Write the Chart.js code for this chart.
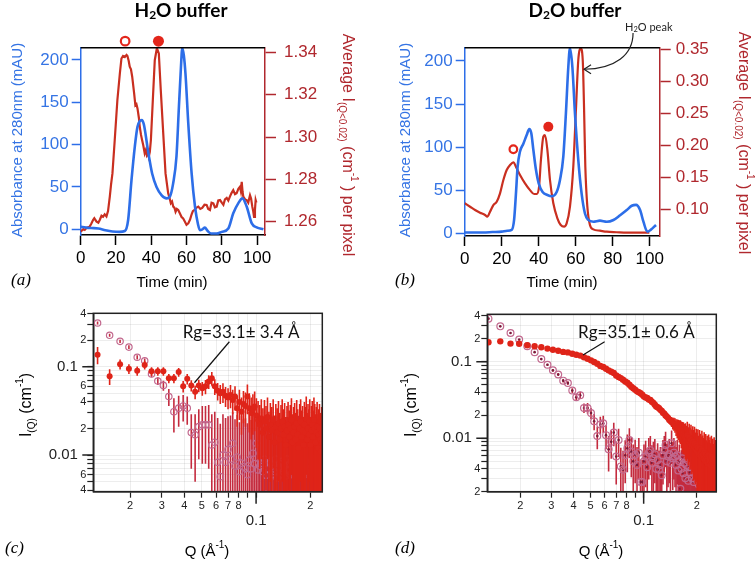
<!DOCTYPE html>
<html>
<head>
<meta charset="utf-8">
<script src="https://cdn.jsdelivr.net/npm/chart.js@4.4.1/dist/chart.umd.min.js"></script>
<style>
  body { margin: 0; background: #fff; }
  #wrap { position: relative; width: 756px; height: 561px; overflow: hidden; background: #fff; }
  canvas { position: absolute; }
</style>
</head>
<body>
<div id="wrap">
  <canvas id="chartA" width="378" height="290" style="left:0;top:0"></canvas>
  <canvas id="chartB" width="378" height="290" style="left:378px;top:0"></canvas>
  <canvas id="chartC" width="378" height="271" style="left:0;top:290px"></canvas>
  <canvas id="chartD" width="378" height="271" style="left:378px;top:290px"></canvas>
</div>
<script>
// ---- (a) H2O buffer : UV absorbance + average SANS intensity vs elution time
const A_BLUE_T = [0, 3, 6, 10, 14, 18, 22, 25, 26.9, 28.8, 30.7, 32.2, 34.6, 35.8, 36.8, 38, 39.2, 40.5, 43, 45.8,
  48.7, 50.5, 52.4, 54.3, 55.7, 56.8, 57.6, 58.5, 59.4, 61, 62.9, 64.8, 66.5, 67.6, 69, 70.4, 72, 74, 77, 80,
  83.7, 86.5, 89.4, 91.7, 94.1, 97, 99.8, 103.6];
const A_BLUE_V = [3, 2, 1.5, 1, -1, -2.5, -3, -2, 11, 58, 98, 121, 129, 124, 112, 95, 80, 66, 50, 40.5,
  36.6, 38.5, 54, 86, 145, 190, 214, 205, 184, 125, 66, 27, 6, -1, 0, 2, -2, -5, -5, -3,
  1, 19, 31, 36.6, 27, 7, 2.3, 0];
const A_RED_T = [0, 1.5, 2.3, 3.5, 5, 6, 7, 7.7, 9, 10,
  10.8, 11.8, 12.7, 13.6, 14.6, 15.5, 16.5, 17.2, 18, 19.3,
  20.8, 22.2, 23.1, 24, 25, 26, 26.5, 27.2, 27.8, 28.5,
  29.2, 30.3, 31, 31.6, 32.2, 33, 33.5, 34.2, 34.8, 35.5,
  36.3, 37, 37.5, 38.1, 38.6, 39.2, 39.8, 40.9, 42, 43.2,
  44.3, 45.4, 46.8, 48.1, 49.6, 50.3, 51.1, 51.8, 52.5, 53.2,
  53.8, 54.5, 55.3, 56.2, 57.2, 58.1, 59.1, 60, 61, 62,
  62.9, 63.6, 64.4, 65.5, 66.7, 67.8, 68.9, 70.2, 71.4, 72.3,
  73.3, 74.2, 75.2, 76.1, 77.1, 78, 79, 80, 80.9, 81.8,
  82.8, 83.7, 84.6, 85.5, 86.5, 87.5, 88.4, 89.4, 90.3, 90.8,
  91.3, 91.8, 92.2, 93.2, 94.1, 95, 96, 96.6, 97.3, 97.8,
  98.3, 98.8, 99.2, 99.6];
const A_RED_V = [1.2553, 1.2565, 1.2561, 1.2572, 1.2576, 1.2590, 1.2608, 1.2616, 1.2600, 1.2595,
  1.2608, 1.2628, 1.2623, 1.2635, 1.2625, 1.2650, 1.2718, 1.2775, 1.2828, 1.2986,
  1.3175, 1.3300, 1.3371, 1.3383, 1.3378, 1.3388, 1.3383, 1.3360, 1.3332, 1.3320,
  1.3285, 1.3206, 1.3150, 1.3155, 1.3135, 1.3090, 1.3048, 1.3010, 1.2986, 1.2960,
  1.2923, 1.2940, 1.2915, 1.2925, 1.2907, 1.2930, 1.2986, 1.3175, 1.3363, 1.3420,
  1.3395, 1.3222, 1.3017, 1.2828, 1.2734, 1.2715, 1.2687, 1.2695, 1.2671, 1.2665,
  1.2647, 1.2660, 1.2655, 1.2640, 1.2622, 1.2615, 1.2600, 1.2585, 1.2592, 1.2610,
  1.2635, 1.2650, 1.2655, 1.2665, 1.2671, 1.2660, 1.2665, 1.2680, 1.2679, 1.2660,
  1.2655, 1.2690, 1.2687, 1.2668, 1.2671, 1.2700, 1.2702, 1.2690, 1.2680, 1.2705,
  1.2712, 1.2700, 1.2718, 1.2735, 1.2749, 1.2730, 1.2734, 1.2755, 1.2765, 1.2745,
  1.2788, 1.2740, 1.2718, 1.2705, 1.2702, 1.2690, 1.2725, 1.2710, 1.2671, 1.2650,
  1.2622, 1.2655, 1.2702, 1.2690];
const A_MARK_T = [25.2, 44.1];        // open circle, filled circle
const A_MARK_V = [1.3453, 1.3453];
const A_XTICKS = [0, 20, 40, 60, 80, 100];
const A_YTICKS = [0, 50, 100, 150, 200];
const A_Y2TICKS = [1.26, 1.28, 1.30, 1.32, 1.34];

// ---- (b) D2O buffer
const B_BLUE_T = [0, 5, 10, 15, 20, 23, 25.4, 26.7, 27.7, 28.6, 29.9, 31.7, 33.5, 34.9, 36, 37.1, 38.5, 40, 42.1, 44.7,
  47, 49.7, 51.5, 53.3, 54.7, 56, 56.9, 58.2, 59.6, 61.4, 63.2, 65, 66.8, 69.5, 73.1, 76.8, 80.4, 84, 87.6, 90.3,
  92.6, 94.8, 96.6, 98.7, 100.5, 103.4];
const B_BLUE_V = [1, 1, 1, 1.5, 2, 3, 4, 15.5, 46, 77, 95, 104, 114, 121, 116, 97, 74, 58, 48, 44.5,
  43, 48, 62, 89, 139, 193, 215, 193, 139, 85, 46, 23, 15.5, 13.5, 14.7, 13.5, 15.5, 21, 27, 32,
  33, 27, 13.5, 2, 4, 9.7];
const B_RED_T = [0, 2.9, 5.6, 8.3, 11, 12.2, 13.7, 15.5, 17.3, 19.1, 20.9, 22.7, 24.5, 26.3, 28.1, 29.9,
  32.6, 35.3, 37.5, 38.9, 40.2, 41.2, 42.5, 43.4, 44.7, 46.1, 47.9, 50.1, 51.9, 53.7, 55.1, 56.9,
  58.7, 60.2, 61.4, 62.7, 63.8, 64.5, 65.2, 66.3, 67.7, 69.5, 73.1, 76.8, 82.1, 87.6, 94.8, 99.8];
const B_RED_V = [0.1094, 0.1040, 0.0989, 0.0947, 0.0911, 0.0885, 0.0963, 0.1067, 0.1119, 0.1250, 0.1458, 0.1614, 0.1692, 0.1734, 0.1640, 0.1535,
  0.1405, 0.1300, 0.1239, 0.1239, 0.1354, 0.1770, 0.2135, 0.2160, 0.1926, 0.1458, 0.1094, 0.0860, 0.0755, 0.0729, 0.0781, 0.1042,
  0.1666, 0.2604, 0.3333, 0.3515, 0.3333, 0.2600, 0.1666, 0.1040, 0.0755, 0.0687, 0.0666, 0.0650, 0.0642, 0.0635, 0.0635, 0.0635];
const B_MARK_T = [26.3, 45.2];
const B_MARK_V = [0.1938, 0.229];
const B_XTICKS = [0, 20, 40, 60, 80, 100];
const B_YTICKS = [0, 50, 100, 150, 200];
const B_Y2TICKS = [0.10, 0.15, 0.20, 0.25, 0.30, 0.35];

// ---- (c), (d) scattering curves I(Q)
const Q = [0.0132, 0.0154, 0.0176, 0.0197, 0.0219, 0.0241, 0.0263, 0.0285, 0.0306, 0.0328,
  0.0350, 0.0372, 0.0394, 0.0415, 0.0437, 0.0459, 0.0481, 0.0503, 0.0524, 0.0546,
  0.0568, 0.0590, 0.0612, 0.0633, 0.0655, 0.0677, 0.0699, 0.0721, 0.0742, 0.0764,
  0.0786, 0.0808, 0.0830, 0.0851, 0.0873, 0.0895, 0.0917, 0.0939, 0.0960, 0.0982,
  0.1004, 0.1026, 0.1048, 0.1069, 0.1091, 0.1113, 0.1135, 0.1157, 0.1178, 0.1200,
  0.1222, 0.1244, 0.1266, 0.1287, 0.1309, 0.1331, 0.1353, 0.1375, 0.1396, 0.1418,
  0.1440, 0.1462, 0.1484, 0.1505, 0.1527, 0.1549, 0.1571, 0.1593, 0.1614, 0.1636,
  0.1658, 0.1680, 0.1702, 0.1723, 0.1745, 0.1767, 0.1789, 0.1811, 0.1832, 0.1854,
  0.1876, 0.1898, 0.1920, 0.1941, 0.1963, 0.1985, 0.2007, 0.2029, 0.2050, 0.2072,
  0.2094, 0.2116, 0.2138, 0.2159, 0.2181, 0.2203, 0.2225, 0.2247, 0.2268, 0.2290,
  0.2312, 0.2334, 0.2356, 0.2377, 0.2399, 0.2421, 0.2443, 0.2465, 0.2486, 0.2508,
  0.2530, 0.2552, 0.2574];

const C_FILL = [0.137, 0.078, 0.107, 0.095, 0.090, 0.105, 0.089, 0.089, 0.089, 0.074,
  0.074, 0.087, 0.060, 0.073, 0.0615, 0.052, 0.0615, 0.057, 0.060, 0.068,
  0.074, 0.060, 0.0535, 0.050, 0.052, 0.047, 0.045, 0.048, 0.042, 0.046,
  0.034, 0.040, 0.031, 0.038, 0.036, 0.046, 0.034, 0.030, 0.033, 0.0356,
  0.028, 0.025, 0.022, 0.026, 0.018, 0.024, 0.020, 0.027, 0.016, 0.022,
  0.019, 0.025, 0.014, 0.021, 0.018, 0.023, 0.015, 0.020, 0.024, 0.017,
  0.021, 0.013, 0.019, 0.022, 0.016, 0.020, 0.025, 0.014, 0.018, 0.021,
  0.015, 0.023, 0.017, 0.012, 0.020, 0.024, 0.016, 0.019, 0.013, 0.022,
  0.018, 0.026, 0.015, 0.020, 0.017, 0.024, 0.013, 0.019, 0.022, 0.016,
  0.025, 0.020, 0.014, 0.018, 0.021, 0.012, 0.017, 0.020, 0.015, 0.011,
  0.018, 0.014, 0.012];
const C_FILL_ERR = [0.030, 0.016, 0.014, 0.012, 0.011, 0.012, 0.010, 0.010, 0.010, 0.009,
  0.009, 0.010, 0.009, 0.010, 0.009, 0.009, 0.010, 0.010, 0.011, 0.012,
  0.013, 0.012, 0.012, 0.012, 0.013, 0.012, 0.012, 0.014, 0.013, 0.014,
  0.013, 0.015, 0.014, 0.015, 0.015, 0.017, 0.016, 0.015, 0.016, 0.017,
  0.016, 0.016, 0.015, 0.017, 0.016, 0.018, 0.016, 0.018, 0.015, 0.017,
  0.016, 0.018, 0.014, 0.017, 0.016, 0.018, 0.015, 0.017, 0.019, 0.016,
  0.018, 0.014, 0.017, 0.018, 0.016, 0.017, 0.019, 0.015, 0.017, 0.018,
  0.015, 0.019, 0.016, 0.013, 0.018, 0.019, 0.016, 0.017, 0.014, 0.018,
  0.017, 0.020, 0.015, 0.018, 0.016, 0.019, 0.014, 0.017, 0.019, 0.016,
  0.020, 0.018, 0.015, 0.017, 0.019, 0.013, 0.016, 0.018, 0.015, 0.013,
  0.017, 0.015, 0.014];
const C_OPEN = [0.313, 0.227, 0.194, 0.167, 0.128, 0.117, 0.083, 0.069, 0.0615, 0.046,
  0.031, 0.034, 0.036, 0.034, 0.018, 0.017, 0.021, 0.022, 0.022, 0.022,
  0.013, 0.014, 0.0083, 0.0057, 0.0100, 0.0083, 0.0116, 0.0090, 0.0136, 0.0075,
  0.0095, 0.0065, 0.0081, 0.0074, 0.0071, 0.0060, 0.0088, 0.0070, 0.0105, 0.0080,
  0.0136, 0.0068, 0.0075, 0.0081, 0.0065, 0.0090, 0.0059, 0.0070, 0.0085, 0.0081,
  0.0060, 0.0078, 0.0065, 0.0090, 0.0055, 0.0072, 0.0080, 0.0060, 0.0085, 0.0065,
  0.0075, 0.0058, 0.0090, 0.0068, 0.0078, 0.0060, 0.0085, 0.0070, 0.0062, 0.0080,
  0.0066, 0.0075, 0.0058, 0.0088, 0.0070, 0.0062, 0.0080, 0.0068, 0.0075, 0.0060,
  0.0085, 0.0070, 0.0064, 0.0078, 0.0060, 0.0082, 0.0070, 0.0065, 0.0090, 0.0072,
  0.0080, 0.0062, 0.0085, 0.0070, 0.0075, 0.0090, 0.0068, 0.0080, 0.0072, 0.0085,
  0.0078, 0.0095, 0.0080];
const C_OPEN_ERR = [0.012, 0.009, 0.008, 0.008, 0.007, 0.007, 0.007, 0.007, 0.008, 0.010,
  0.013, 0.013, 0.012, 0.012, 0.011, 0.012, 0.012, 0.014, 0.014, 0.015,
  0.016, 0.017, 0.018, 0.017, 0.019, 0.018, 0.016, 0.019, 0.017, 0.018,
  0.019, 0.017, 0.020, 0.018, 0.019, 0.017, 0.020, 0.018, 0.019, 0.017,
  0.016, 0.019, 0.018, 0.020, 0.017, 0.019, 0.018, 0.020, 0.017, 0.019,
  0.018, 0.020, 0.017, 0.019, 0.018, 0.020, 0.017, 0.019, 0.018, 0.020,
  0.017, 0.019, 0.018, 0.020, 0.017, 0.019, 0.018, 0.020, 0.017, 0.019,
  0.018, 0.020, 0.017, 0.019, 0.018, 0.020, 0.017, 0.019, 0.018, 0.020,
  0.017, 0.019, 0.018, 0.020, 0.017, 0.019, 0.018, 0.020, 0.017, 0.019,
  0.018, 0.020, 0.017, 0.019, 0.018, 0.020, 0.017, 0.019, 0.018, 0.020,
  0.017, 0.019, 0.018];

const D_FILL = [0.179, 0.184, 0.172, 0.171, 0.164, 0.159, 0.154, 0.148, 0.143, 0.139,
  0.134, 0.132, 0.127, 0.123, 0.120, 0.114, 0.109, 0.104, 0.099, 0.094,
  0.088, 0.085, 0.081, 0.077, 0.074, 0.071, 0.066, 0.063, 0.061, 0.058,
  0.055, 0.053, 0.050, 0.047, 0.045, 0.043, 0.041, 0.040, 0.0387, 0.037,
  0.035, 0.034, 0.0335, 0.032, 0.0317, 0.030, 0.029, 0.0275, 0.026, 0.0255,
  0.0247, 0.0235, 0.0228, 0.0215, 0.021, 0.0198, 0.0192, 0.0185, 0.0175, 0.017,
  0.0165, 0.0158, 0.0155, 0.015, 0.0142, 0.0138, 0.0135, 0.0130, 0.0128, 0.0120,
  0.0115, 0.0112, 0.0108, 0.0105, 0.0098, 0.0110, 0.0092, 0.0102, 0.0088, 0.0095,
  0.0082, 0.0090, 0.0078, 0.0085, 0.0072, 0.0080, 0.0068, 0.0076, 0.0062, 0.0074,
  0.0065, 0.0058, 0.0070, 0.0060, 0.0055, 0.0066, 0.0052, 0.0062, 0.0050, 0.0058,
  0.0047, 0.0060, 0.0050, 0.0055, 0.0045, 0.0058, 0.0048, 0.0052, 0.0044, 0.0055,
  0.0046, 0.0050, 0.0042];
const D_FILL_ERR = [0.004, 0.004, 0.004, 0.003, 0.003, 0.003, 0.003, 0.003, 0.003, 0.003,
  0.003, 0.003, 0.003, 0.003, 0.002, 0.002, 0.002, 0.002, 0.002, 0.002,
  0.002, 0.002, 0.002, 0.002, 0.002, 0.002, 0.002, 0.002, 0.002, 0.002,
  0.0015, 0.0015, 0.0015, 0.0015, 0.0015, 0.0015, 0.0015, 0.0015, 0.0015, 0.0015,
  0.0012, 0.0012, 0.0012, 0.0012, 0.0012, 0.0012, 0.0012, 0.0012, 0.0013, 0.0013,
  0.0014, 0.0014, 0.0015, 0.0015, 0.0016, 0.0016, 0.0017, 0.0018, 0.0019, 0.0020,
  0.0025, 0.0028, 0.0030, 0.0032, 0.0035, 0.0038, 0.0040, 0.0042, 0.0044, 0.0046,
  0.0048, 0.0050, 0.0046, 0.0052, 0.0048, 0.0055, 0.0047, 0.0053, 0.0049, 0.0055,
  0.0048, 0.0054, 0.0050, 0.0056, 0.0047, 0.0053, 0.0049, 0.0055, 0.0046, 0.0054,
  0.0050, 0.0047, 0.0055, 0.0049, 0.0046, 0.0054, 0.0045, 0.0052, 0.0044, 0.0050,
  0.0042, 0.0052, 0.0045, 0.0048, 0.0041, 0.0050, 0.0043, 0.0047, 0.0040, 0.0048,
  0.0042, 0.0045, 0.0040];
const D_OPEN = [0.364, 0.289, 0.237, 0.194, 0.159, 0.133, 0.108, 0.091, 0.077, 0.068,
  0.0565, 0.0527, 0.042, 0.0343, 0.0365, 0.0249, 0.0249, 0.0214, 0.0167, 0.0107,
  0.0151, 0.0157, 0.0110, 0.0072, 0.0090, 0.0119, 0.0058, 0.0095, 0.0043, 0.0039,
  0.0060, 0.0074, 0.0095, 0.0067, 0.0050, 0.0061, 0.0045, 0.0065, 0.0027, 0.0027,
  0.0050, 0.0058, 0.0042, 0.0065, 0.0070, 0.0048, 0.0055, 0.0062, 0.0040, 0.0052,
  0.0039, 0.0045, 0.0033, 0.0060, 0.0070, 0.0082, 0.0050, 0.0058, 0.0062, 0.0048,
  0.0086, 0.0055, 0.0065, 0.0058, 0.0045, 0.0060, 0.0038, 0.0050, 0.0022, 0.0040,
  0.0055, 0.0035, 0.0048, 0.0030, 0.0045, 0.0052, 0.0028, 0.0042, 0.0036, 0.0050,
  0.0030, 0.0045, 0.0027, 0.0040, 0.0033, 0.0048, 0.0028, 0.0038, 0.0025, 0.0042,
  0.0030, 0.0035, 0.0026, 0.0040, 0.0030, 0.0028, 0.0036, 0.0025, 0.0032, 0.0028,
  0.0038, 0.0026, 0.0030, 0.0025, 0.0033, 0.0027, 0.0030, 0.0024, 0.0028, 0.0026,
  0.0025, 0.0029, 0.0025];
const D_OPEN_ERR = [0.006, 0.005, 0.004, 0.003, 0.003, 0.003, 0.003, 0.003, 0.003, 0.003,
  0.003, 0.003, 0.003, 0.0035, 0.004, 0.0035, 0.004, 0.0035, 0.004, 0.0035,
  0.004, 0.004, 0.0038, 0.0035, 0.0036, 0.004, 0.0033, 0.0038, 0.0032, 0.003,
  0.0034, 0.0038, 0.004, 0.0036, 0.0033, 0.0035, 0.0032, 0.0036, 0.0026, 0.0026,
  0.0033, 0.0035, 0.0032, 0.0036, 0.0037, 0.0033, 0.0035, 0.0036, 0.0031, 0.0034,
  0.003, 0.0032, 0.003, 0.0035, 0.0037, 0.004, 0.0034, 0.0035, 0.0036, 0.0033,
  0.004, 0.0034, 0.0036, 0.0035, 0.0032, 0.0035, 0.003, 0.0033, 0.0022, 0.003,
  0.0034, 0.0028, 0.0032, 0.0026, 0.0031, 0.0033, 0.0025, 0.003, 0.0028, 0.0033,
  0.0026, 0.0031, 0.0024, 0.0029, 0.0027, 0.0032, 0.0025, 0.0028, 0.0023, 0.003,
  0.0026, 0.0027, 0.0023, 0.0029, 0.0026, 0.0025, 0.0028, 0.0023, 0.0027, 0.0025,
  0.0029, 0.0024, 0.0026, 0.0023, 0.0028, 0.0024, 0.0026, 0.0022, 0.0025, 0.0024,
  0.0023, 0.0026, 0.0023];

const Q_TICKS = [0.02, 0.03, 0.04, 0.05, 0.06, 0.07, 0.08, 0.09, 0.1, 0.2];
const Q_LABELS = ['2', '3', '4', '5', '6', '7', '8', '', '0.1', '2'];
const C_YTICKS = [0.004, 0.005, 0.006, 0.007, 0.008, 0.009, 0.01, 0.02, 0.03, 0.04, 0.05, 0.06, 0.07, 0.08, 0.09, 0.1, 0.2, 0.3, 0.4];
const C_YLABELS = ['4', '', '6', '', '', '', '0.01', '2', '', '4', '', '6', '', '', '', '0.1', '2', '', '4'];
const D_YTICKS = [0.002, 0.003, 0.004, 0.005, 0.006, 0.007, 0.008, 0.009, 0.01, 0.02, 0.03, 0.04, 0.05, 0.06, 0.07, 0.08, 0.09, 0.1, 0.2, 0.3, 0.4];
const D_YLABELS = ['2', '', '4', '', '', '', '', '', '0.01', '2', '', '4', '', '', '', '', '', '0.1', '2', '', '4'];
const DECADES = [0.01, 0.1];

// colours and fonts
const BLUE = '#2d6ee8';
const BLUE_TXT = '#3574e4';
const RED_LINE = '#c92f20';
const RED_AX = '#b0282e';
const MARK = '#e3261b';
const SANS_RED = '#df2419';
const RING = '#c2688e';
const RING_ERR = '#c42b3e';
const GRID = 'rgba(0,0,0,0.07)';
const FONT = '"Liberation Sans", Arial, sans-serif';
const CAL = 'Lato, "Open Sans", sans-serif';
const SERIF = '"Liberation Serif", "DejaVu Serif", serif';

Chart.defaults.font.family = FONT;
Chart.defaults.color = '#000';

const pts = (xs, ys) => ys.map((y, i) => ({ x: xs[i], y }));
const setTicks = vals => scale => { scale.ticks = vals.map(v => ({ value: v })); };
const fixW = w => scale => { scale.width = w; };
const fixH = h => scale => { scale.height = h; };

// text with sub/superscripts, optionally rotated
function drawRich(ctx, it) {
  const font = s => [s.style || it.style || '', s.weight || it.weight || '', (s.size || it.size || 15) + 'px', s.family || it.family || FONT].join(' ');
  ctx.save();
  ctx.translate(it.x, it.y);
  if (it.rot) ctx.rotate(it.rot * Math.PI / 180);
  ctx.fillStyle = it.color || '#000';
  ctx.textBaseline = 'middle';
  ctx.textAlign = 'left';
  let w = 0;
  it.segs.forEach(s => { ctx.font = font(s); w += ctx.measureText(s.t).width; });
  let cx = it.align === 'left' ? 0 : -w / 2;
  it.segs.forEach(s => {
    ctx.font = font(s);
    ctx.fillText(s.t, cx, s.dy || 0);
    cx += ctx.measureText(s.t).width;
  });
  ctx.restore();
}

function overlay(items, draw) {
  return {
    id: 'overlay',
    afterDraw(chart) {
      const ctx = chart.ctx;
      if (draw) draw(chart, ctx);
      items.forEach(it => drawRich(ctx, it));
    }
  };
}

// top border and the two peak markers (open / filled) of the chromatograms
const chromExtras = (mt, mv, rOpen, rFill) => (chart, ctx) => {
  const { chartArea: a, scales: { x, y2 } } = chart;
  ctx.save();
  ctx.strokeStyle = '#000';
  ctx.lineWidth = 1.5;
  ctx.beginPath();
  ctx.moveTo(a.left, a.top);
  ctx.lineTo(a.right, a.top);
  ctx.stroke();
  ctx.strokeStyle = MARK;
  ctx.fillStyle = MARK;
  ctx.lineWidth = 2.2;
  ctx.beginPath();
  ctx.arc(x.getPixelForValue(mt[0]), y2.getPixelForValue(mv[0]), rOpen, 0, Math.PI * 2);
  ctx.stroke();
  ctx.beginPath();
  ctx.arc(x.getPixelForValue(mt[1]), y2.getPixelForValue(mv[1]), rFill, 0, Math.PI * 2);
  ctx.fill();
  ctx.restore();
};

// vertical error bars, drawn just before each dataset's markers
const errorBars = {
  id: 'errorBars',
  beforeDatasetDraw(chart, args) {
    const ds = chart.data.datasets[args.index];
    if (!ds.errors) return;
    const { ctx, chartArea: a, scales: { x, y } } = chart;
    ctx.save();
    ctx.beginPath();
    ctx.rect(a.left, a.top, a.width, a.height);
    ctx.clip();
    ctx.strokeStyle = ds.errColor;
    ctx.lineWidth = 1.6;
    ds.data.forEach((p, i) => {
      const e = ds.errors[i];
      const px = x.getPixelForValue(p.x);
      const top = y.getPixelForValue(p.y + e);
      const bot = p.y - e > 0 ? Math.min(y.getPixelForValue(p.y - e), a.bottom) : a.bottom;
      ctx.beginPath();
      ctx.moveTo(px, top);
      ctx.lineTo(px, bot);
      ctx.stroke();
      if (ds.centerDot) {
        ctx.fillStyle = ds.centerDot;
        ctx.beginPath();
        ctx.arc(px, y.getPixelForValue(p.y), 1.3, 0, Math.PI * 2);
        ctx.fill();
      }
    });
    ctx.restore();
  }
};

// frame and long decade ticks for the log-log plots
const logFrame = {
  id: 'logFrame',
  afterDraw(chart) {
    const { ctx, chartArea: a, scales: { x, y } } = chart;
    ctx.save();
    ctx.strokeStyle = '#222';
    ctx.lineWidth = 1.5;
    ctx.beginPath();
    [0.1].forEach(v => { const p = x.getPixelForValue(v); ctx.moveTo(p, a.bottom); ctx.lineTo(p, a.bottom + 12); });
    DECADES.forEach(v => { const p = y.getPixelForValue(v); ctx.moveTo(a.left, p); ctx.lineTo(a.left - 11, p); });
    ctx.stroke();
    ctx.strokeRect(a.left, a.top, a.width, a.height);
    ctx.restore();
  }
};

function chromScales(o) {
  return {
    x: {
      type: 'linear', min: 0, max: o.xmax, afterBuildTicks: setTicks(o.xticks), afterFit: fixH(o.xh),
      border: { color: '#000', width: 1.5 },
      grid: { drawOnChartArea: false, tickLength: 10, tickColor: '#000', tickWidth: 1.5 },
      ticks: { color: '#000', font: { size: 17 }, padding: 3, autoSkip: false, maxRotation: 0 }
    },
    y: {
      position: 'left', min: o.ymin, max: o.ymax, afterBuildTicks: setTicks(o.yticks), afterFit: fixW(o.yw),
      border: { color: BLUE, width: 1.5 },
      grid: { drawOnChartArea: false, tickLength: 9, tickColor: BLUE, tickWidth: 1.5 },
      ticks: { color: BLUE_TXT, font: { size: 17 }, padding: 3, autoSkip: false }
    },
    y2: {
      position: 'right', min: o.y2min, max: o.y2max, afterBuildTicks: setTicks(o.y2ticks), afterFit: fixW(o.y2w),
      border: { color: RED_AX, width: 1.5 },
      grid: { drawOnChartArea: false, tickLength: 11, tickColor: RED_AX, tickWidth: 1.5 },
      ticks: { color: RED_AX, font: { size: 17 }, padding: o.y2pad, autoSkip: false, callback: v => v.toFixed(2) }
    }
  };
}

function chromDatasets(bt, bv, rt, rv, redSmooth) {
  return [
    { data: pts(bt, bv), yAxisID: 'y', borderColor: BLUE, borderWidth: 2.6, pointRadius: 0, cubicInterpolationMode: 'monotone' },
    Object.assign({ data: pts(rt, rv), yAxisID: 'y2', borderColor: RED_LINE, borderWidth: 2.2, pointRadius: 0 },
      redSmooth ? { cubicInterpolationMode: 'monotone' } : { tension: 0 })
  ];
}

const common = {
  responsive: false, animation: false, events: [],
  plugins: { legend: { display: false }, tooltip: { enabled: false } }
};

// (a)
new Chart(document.getElementById('chartA'), {
  type: 'line',
  data: { datasets: chromDatasets(A_BLUE_T, A_BLUE_V, A_RED_T, A_RED_V, false) },
  options: Object.assign({}, common, {
    layout: { autoPadding: false, padding: { top: 47.7, left: 0, right: 0, bottom: 0 } },
    scales: chromScales({ xmax: 104.5, xticks: A_XTICKS, xh: 55, ymin: -6.7, ymax: 214.5, yticks: A_YTICKS, yw: 80.7,
      y2min: 1.2537, y2max: 1.3422, y2ticks: A_Y2TICKS, y2w: 113, y2pad: 8 })
  }),
  plugins: [overlay([
    { x: 181, y: 11, weight: 'bold', family: CAL, size: 19, segs: [{ t: 'H' }, { t: '2', size: 12, dy: 4 }, { t: 'O buffer' }] },
    { x: 18, y: 140, rot: -90, color: BLUE_TXT, size: 15, segs: [{ t: 'Absorbance at 280nm (mAU)' }] },
    { x: 347, y: 145, rot: 90, color: RED_AX, size: 16, segs: [{ t: 'Average I' }, { t: '(Q<0.02)', size: 10, dy: 5 }, { t: ' (cm' }, { t: '-1', size: 10, dy: -7 }, { t: ' ) per pixel' }] },
    { x: 172, y: 283, size: 15, segs: [{ t: 'Time (min)' }] },
    { x: 11, y: 281, align: 'left', size: 17, style: 'italic', family: SERIF, segs: [{ t: '(a)' }] }
  ], chromExtras(A_MARK_T, A_MARK_V, 4.3, 5.5))]
});

// (b)
const bExtras = chromExtras(B_MARK_T, B_MARK_V, 3.8, 5);
new Chart(document.getElementById('chartB'), {
  type: 'line',
  data: { datasets: chromDatasets(B_BLUE_T, B_BLUE_V, B_RED_T, B_RED_V, true) },
  options: Object.assign({}, common, {
    layout: { autoPadding: false, padding: { top: 47.7, left: 0, right: 0, bottom: 0 } },
    scales: chromScales({ xmax: 105.4, xticks: B_XTICKS, xh: 54, ymin: -3.1, ymax: 215.4, yticks: B_YTICKS, yw: 86.7,
      y2min: 0.0583, y2max: 0.3525, y2ticks: B_Y2TICKS, y2w: 96.3, y2pad: 5 })
  }),
  plugins: [overlay([
    { x: 197, y: 11, weight: 'bold', family: CAL, size: 19, segs: [{ t: 'D' }, { t: '2', size: 12, dy: 4 }, { t: 'O buffer' }] },
    { x: 28, y: 140, rot: -90, color: BLUE_TXT, size: 15, segs: [{ t: 'Absorbance at 280nm (mAU)' }] },
    { x: 365, y: 143, rot: 90, color: RED_AX, size: 16, segs: [{ t: 'Average I' }, { t: '(Q<0.02)', size: 10, dy: 5 }, { t: ' (cm' }, { t: '-1', size: 10, dy: -7 }, { t: ' ) per pixel' }] },
    { x: 184, y: 283, size: 15, segs: [{ t: 'Time (min)' }] },
    { x: 17, y: 281, align: 'left', size: 17, style: 'italic', family: SERIF, segs: [{ t: '(b)' }] }
  ], (chart, ctx) => {
    bExtras(chart, ctx);
    const { x, y2 } = chart.scales;
    const P = (t, r) => [x.getPixelForValue(t), y2.getPixelForValue(r)];
    const s = P(91, 0.3755), c1 = P(91, 0.3411), c2 = P(81.2, 0.3192), e = P(64.5, 0.3188);
    ctx.save();
    ctx.strokeStyle = '#222';
    ctx.lineWidth = 1.2;
    ctx.beginPath();
    ctx.moveTo(s[0], s[1]);
    ctx.bezierCurveTo(c1[0], c1[1], c2[0], c2[1], e[0], e[1]);
    ctx.stroke();
    ctx.beginPath();
    ctx.moveTo(e[0] + 7, e[1] - 4.5);
    ctx.lineTo(e[0], e[1]);
    ctx.lineTo(e[0] + 7, e[1] + 4.5);
    ctx.stroke();
    ctx.restore();
    const tp = P(99.5, 0.3848);
    drawRich(ctx, { x: tp[0], y: tp[1], size: 11, family: CAL, color: '#222', segs: [{ t: 'H' }, { t: '2', size: 7.5, dy: 2.5 }, { t: 'O peak' }] });
  })]
});

function logScales(o) {
  return {
    x: {
      type: 'logarithmic', min: o.xmin, max: o.xmax, afterBuildTicks: setTicks(Q_TICKS), afterFit: fixH(69.3),
      border: { color: '#222', width: 1.5 },
      grid: { color: GRID, tickColor: '#222', tickLength: 6, tickWidth: 1.2 },
      ticks: {
        color: '#222', autoSkip: false, maxRotation: 0, padding: 2,
        font: ctx => (Q_LABELS[ctx.index] === '0.1' ? { size: 15, lineHeight: 0.95, family: FONT } : { size: 11, family: FONT }),
        callback: (v, i) => Q_LABELS[i] === '0.1' ? ['', '0.1'] : Q_LABELS[i]
      }
    },
    y: {
      type: 'logarithmic', min: o.ymin, max: o.ymax, afterBuildTicks: setTicks(o.yticks), afterFit: fixW(o.yw),
      border: { color: '#222', width: 1.5 },
      grid: { color: GRID, tickColor: '#222', tickLength: 6, tickWidth: 1.2 },
      ticks: {
        color: '#222', autoSkip: false, padding: 1,
        font: ctx => ({ size: o.ylabels[ctx.index].startsWith('0.') ? 15 : 11, family: FONT }),
        callback: (v, i) => o.ylabels[i].startsWith('0.') ? o.ylabels[i] + '  ' : o.ylabels[i]
      }
    }
  };
}

function sansDatasets(fill, fillErr, open, openErr, rFill, rOpen, dot) {
  return [
    { data: pts(Q, fill), errors: fillErr, errColor: SANS_RED, pointRadius: rFill, pointBorderWidth: 0,
      pointBackgroundColor: SANS_RED, pointBorderColor: SANS_RED, clip: 0 },
    { data: pts(Q, open), errors: openErr, errColor: RING_ERR, centerDot: dot, pointRadius: rOpen, pointBorderWidth: 1.2,
      pointBackgroundColor: 'rgba(0,0,0,0)', pointBorderColor: RING, clip: 0 }
  ];
}

// (c)
new Chart(document.getElementById('chartC'), {
  type: 'scatter',
  data: { datasets: sansDatasets(C_FILL, C_FILL_ERR, C_OPEN, C_OPEN_ERR, 3, 3.2, null) },
  options: Object.assign({}, common, {
    layout: { autoPadding: false, padding: { top: 23.3, left: 0, right: 55.7, bottom: 0 } },
    scales: logScales({ xmin: 0.0125, xmax: 0.233, ymin: 0.00385, ymax: 0.403, yticks: C_YTICKS, ylabels: C_YLABELS, yw: 93.3 })
  }),
  plugins: [errorBars, logFrame, overlay([
    { x: 27, y: 115, rot: -90, size: 16, segs: [{ t: 'I' }, { t: '(Q)', size: 10, dy: 5 }, { t: ' (cm' }, { t: '-1', size: 10, dy: -7 }, { t: ')' }] },
    { x: 207, y: 262, size: 15, segs: [{ t: 'Q (Å' }, { t: '-1', size: 10, dy: -7 }, { t: ')' }] },
    { x: 5, y: 259, align: 'left', size: 17, style: 'italic', family: SERIF, segs: [{ t: '(c)' }] }
  ], (chart, ctx) => {
    const { x, y } = chart.scales;
    ctx.save();
    ctx.strokeStyle = '#111';
    ctx.lineWidth = 1.2;
    ctx.beginPath();
    ctx.moveTo(x.getPixelForValue(0.0711), y.getPixelForValue(0.192));
    ctx.lineTo(x.getPixelForValue(0.0455), y.getPixelForValue(0.0659));
    ctx.stroke();
    ctx.restore();
    drawRich(ctx, { x: x.getPixelForValue(0.0392), y: y.getPixelForValue(0.244), align: 'left', size: 17, family: CAL, color: '#111', segs: [{ t: 'Rg=33.1± 3.4 Å' }] });
  })]
});

// (d)
new Chart(document.getElementById('chartD'), {
  type: 'scatter',
  data: { datasets: sansDatasets(D_FILL, D_FILL_ERR, D_OPEN, D_OPEN_ERR, 3.2, 3.4, '#7a1a3a') },
  options: Object.assign({}, common, {
    layout: { autoPadding: false, padding: { top: 24.3, left: 0, right: 39.7, bottom: 0 } },
    scales: logScales({ xmin: 0.013, xmax: 0.258, ymin: 0.00201, ymax: 0.415, yticks: D_YTICKS, ylabels: D_YLABELS, yw: 109.3 })
  }),
  plugins: [errorBars, logFrame, overlay([
    { x: 34, y: 115, rot: -90, size: 16, segs: [{ t: 'I' }, { t: '(Q)', size: 10, dy: 5 }, { t: ' (cm' }, { t: '-1', size: 10, dy: -7 }, { t: ')' }] },
    { x: 223, y: 262, size: 15, segs: [{ t: 'Q (Å' }, { t: '-1', size: 10, dy: -7 }, { t: ')' }] },
    { x: 17, y: 259, align: 'left', size: 17, style: 'italic', family: SERIF, segs: [{ t: '(d)' }] }
  ], (chart, ctx) => {
    const { x, y } = chart.scales;
    ctx.save();
    ctx.strokeStyle = '#111';
    ctx.lineWidth = 1.2;
    ctx.beginPath();
    ctx.moveTo(x.getPixelForValue(0.0601), y.getPixelForValue(0.1823));
    ctx.lineTo(x.getPixelForValue(0.0453), y.getPixelForValue(0.122));
    ctx.stroke();
    ctx.restore();
    drawRich(ctx, { x: x.getPixelForValue(0.0425), y: y.getPixelForValue(0.240), align: 'left', size: 17, family: CAL, color: '#111', segs: [{ t: 'Rg=35.1± 0.6 Å' }] });
  })]
});
</script>
</body>
</html>
